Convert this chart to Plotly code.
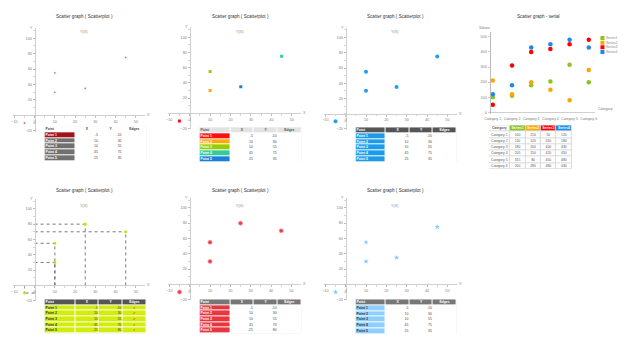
import plotly.graph_objects as go

W, H = 640, 358
FONT = "Liberation Sans, Arial, sans-serif"

# ---------------- data ----------------
point_names = ["Point 1", "Point 2", "Point 3", "Point 4", "Point 5"]
x_vals = [-5, 10, 10, 45, 25]
y_vals_a = [-10, 30, 55, 75, 35]
y_vals_b = [-10, 30, 55, 70, 80]
x_ticks = [-10, 0, 10, 20, 30, 40, 50]
y_ticks = [-20, 20, 40, 60, 80, 100]
point_header = ["Point", "X", "Y", "Edges"]
edges_empty = ["", "", "", "", ""]
edges_checked = ["✔", "✔", "✔", "✔", "✔"]

categories = ["Category 1", "Category 2", "Category 3", "Category 4", "Category 5", "Category 6"]
series_names = ["Series1", "Series2", "Series3", "Series4"]
series1 = [100, 110, 180, 205, 315, 200]
series2 = [210, 120, 200, 150, 80, 280]
series3 = [50, 310, 400, 420, 450, 480]
series4 = [120, 180, 430, 450, 480, 430]
series_colors = ["#8DC21F", "#FFA500", "#FF0000", "#1E88E5"]
value_ticks = [0, 100, 200, 300, 400, 500]
cat_header = ["Category", "Series1", "Series2", "Series3", "Series4"]

title_points = "Scatter graph ( Scatterplot )"
title_serial = "Scatter graph - serial"

# ---------------- helpers ----------------
fig = go.Figure()
layout = {}
annotations = []
shapes = []
counter = [0]


def new_axes():
    counter[0] += 1
    i = counter[0]
    s = "" if i == 1 else str(i)
    return "x" + s, "y" + s, "xaxis" + s, "yaxis" + s


def text_ann(x, y, text, size=4, color="#555", xanchor="center", yanchor="middle", xref="paper", yref="paper"):
    annotations.append(dict(x=x, y=y, xref=xref, yref=yref, text=text, showarrow=False,
                            xanchor=xanchor, yanchor=yanchor,
                            font=dict(size=size, color=color, family=FONT)))


axis_common = dict(showgrid=False, zeroline=False, showline=True, linecolor="#cfcfcf", linewidth=1,
                   ticks="outside", ticklen=2, tickwidth=0.6, tickcolor="#aaaaaa",
                   tickfont=dict(size=3.8, color="#808080", family=FONT), fixedrange=True)


def scatter_panel(x0, y0, sx, sy, xs, ys, marker, tx, ty, guides=False,
                  xr=(-10.5, 54.5), yr=(-21, 113)):
    xn, yn, xk, yk = new_axes()
    layout[xk] = {**axis_common,
                  "domain": [(x0 + xr[0] * sx) / W, (x0 + xr[1] * sx) / W],
                  "range": list(xr), "anchor": "free", "position": 1 - y0 / H,
                  "tickmode": "array", "tickvals": x_ticks,
                  "minor": dict(dtick=5, ticks="outside", ticklen=1.5, tickcolor="#bbbbbb", tickwidth=0.6)}
    layout[yk] = {**axis_common,
                  "domain": [1 - (y0 - yr[0] * sy) / H, 1 - (y0 - yr[1] * sy) / H],
                  "range": list(yr), "anchor": "free", "position": x0 / W,
                  "tickmode": "array", "tickvals": y_ticks,
                  "minor": dict(dtick=10, ticks="outside", ticklen=1.5, tickcolor="#bbbbbb", tickwidth=0.6)}
    if guides:
        gx, gy = [], []
        for a, b in zip(xs, ys):
            gx += [a, a, None, 0, a, None]
            gy += [0, b, None, b, b, None]
        fig.add_trace(go.Scatter(x=gx, y=gy, mode="lines", xaxis=xn, yaxis=yn, hoverinfo="skip",
                                 line=dict(color="#555555", width=0.8, dash="dot")))
    fig.add_trace(go.Scatter(x=xs, y=ys, mode="markers", marker=marker, xaxis=xn, yaxis=yn))
    text_ann(xr[1], 0, "X", size=3.8, color="#888", xanchor="left", xref=xn, yref=yn)
    text_ann(0, yr[1], "Y", size=3.8, color="#888", xanchor="right", xref=xn, yref=yn)
    text_ann(tx / W, 1 - ty / H, title_points, size=4.6, color="#333")
    text_ann(tx / W, 1 - (ty + 15) / H, "Y(X)", size=3.8, color="#888")


def table_panel(left, top, right, bottom, widths, columns, fills, tcolors, aligns, bold_cols=(), bg="#d9d9d9"):
    xn, yn, xk, yk = new_axes()
    edges = [0]
    for w in widths:
        edges.append(edges[-1] + w)
    nrows = len(columns[0])
    layout[xk] = dict(domain=[left / W, right / W], range=[0, edges[-1]], visible=False,
                      anchor=yn, fixedrange=True)
    layout[yk] = dict(domain=[1 - bottom / H, 1 - top / H], range=[nrows - 0.5, -0.5], visible=False,
                      anchor=xn, fixedrange=True)
    palette = []
    for col in fills:
        for c in col:
            if c not in palette:
                palette.append(c)
    n = len(palette)
    cs = []
    for k, c in enumerate(palette):
        cs.append([k / n, c])
        cs.append([(k + 1) / n, c])
    z = [[palette.index(fills[c][r]) for c in range(len(columns))] for r in range(nrows)]
    shapes.append(dict(type="rect", xref=xn + " domain", yref=yn + " domain", x0=0, x1=1, y0=0, y1=1,
                       fillcolor=bg, line=dict(width=0), layer="below"))
    fig.add_trace(go.Heatmap(x=edges, y=list(range(nrows)), z=z, colorscale=cs, zmin=-0.5, zmax=n - 0.5,
                             showscale=False, xgap=1, ygap=1, hoverinfo="skip", xaxis=xn, yaxis=yn))
    for c, col in enumerate(columns):
        groups = {}
        for r, t in enumerate(col):
            if t == "":
                continue
            al = aligns[c][0] if r == 0 else aligns[c][1]
            groups.setdefault(al, []).append(r)
        for al, rows in groups.items():
            if al == "left":
                xp, pos = edges[c] + 1.0, "middle right"
            elif al == "right":
                xp, pos = edges[c + 1] - 1.0, "middle left"
            else:
                xp, pos = (edges[c] + edges[c + 1]) / 2, "middle center"
            txt = []
            for r in rows:
                t = col[r]
                if (r == 0) or (c in bold_cols):
                    t = "<b>" + t + "</b>"
                txt.append(t)
            fig.add_trace(go.Scatter(x=[xp] * len(rows), y=rows, mode="text", text=txt, textposition=pos,
                                     textfont=dict(size=3.4, family=FONT, color=[tcolors[c][r] for r in rows]),
                                     hoverinfo="skip", xaxis=xn, yaxis=yn))


def point_table(left, top, right, bottom, ys, head_fill, head_text, first_fills, first_text,
                body_fill="#ffffff", body_text="#444444", edges_col=None, edges_color="#444444"):
    edges_col = edges_col if edges_col is not None else edges_empty
    cols = [[point_header[0]] + point_names,
            [point_header[1]] + [str(v) for v in x_vals],
            [point_header[2]] + [str(v) for v in ys],
            [point_header[3]] + edges_col]
    fills = [[head_fill] + first_fills] + [[head_fill] + [body_fill] * 5 for _ in range(3)]
    tcols = [[head_text] + [first_text] * 5,
             [head_text] + [body_text] * 5,
             [head_text] + [body_text] * 5,
             [head_text] + [edges_color] * 5]
    aligns = [("left", "left"), ("center", "right"), ("center", "right"), ("center", "center")]
    table_panel(left, top, right, bottom, [31, 24, 24, 24], cols, fills, tcols, aligns, bold_cols=(0,))


# ---------------- panel 1 ----------------
scatter_panel(30, 116, 2.05, 0.775, x_vals, y_vals_a,
              dict(symbol=["square", "star", "star", "star", "star"], size=[2.6, 3.6, 3.6, 3.6, 3.6],
                   color=["#B0101E", "#444444", "#444444", "#444444", "#444444"]), 80, 17)
point_table(40, 127, 143, 162, y_vals_a, "#ffffff", "#444444",
            ["#A0141E", "#707070", "#707070", "#707070", "#707070"], "#ffffff")

# ---------------- panel 2 ----------------
p2_colors = ["#FF1010", "#FFAA00", "#99CC00", "#33CC99", "#1E7FD8"]
scatter_panel(187, 114, 2.07, 0.765, x_vals, y_vals_a,
              dict(symbol="square", size=3, color=p2_colors), 238, 17)
point_table(197, 128, 300, 163, y_vals_a, "#e2e2e2", "#555555", p2_colors, "#ffffff")

# ---------------- panel 3 ----------------
scatter_panel(345, 114.3, 2.06, 0.765, x_vals, y_vals_a,
              dict(symbol="circle", size=4, color="#1EA0F0"), 395, 17)
point_table(355, 128, 457, 163, y_vals_a, "#555555", "#ffffff", ["#1E9BE8"] * 5, "#ffffff")

# ---------------- panel 5 ----------------
scatter_panel(30, 287, 2.05, 0.77, x_vals, y_vals_b,
              dict(symbol="square", size=2.6, color="#C8E000"), 80, 192, guides=True)
point_table(40, 301, 143, 335, y_vals_b, "#555555", "#ffffff", ["#D2EC0C"] * 5, "#333333",
            body_fill="#D2EC0C", body_text="#333333", edges_col=edges_checked, edges_color="#E8202A")

# ---------------- panel 6 ----------------
scatter_panel(187, 286, 2.06, 0.77, x_vals, y_vals_b,
              dict(symbol="circle", size=4, color="#F03C4A",
                   line=dict(color="rgba(255,140,150,0.6)", width=1)), 238, 192)
point_table(197, 301, 300, 335, y_vals_b, "#777777", "#ffffff", ["#E8363F"] * 5, "#ffffff")

# ---------------- panel 7 ----------------
scatter_panel(345, 286, 2.06, 0.77, x_vals, y_vals_a,
              dict(symbol="star", size=4, color="#80C8FF"), 395, 192)
point_table(355, 301, 457, 336, y_vals_a, "#777777", "#ffffff", ["#8ECFFF"] * 5, "#223344")

# ---------------- panel 4 (serial) ----------------
xn, yn, xk, yk = new_axes()
layout[xk] = {**axis_common, "domain": [490.7 / W, 597 / W], "type": "category",
              "categoryorder": "array", "categoryarray": categories,
              "range": [-0.17, 5.3], "anchor": "free", "position": 1 - 113 / H,
              "ticks": "", "ticklabelstandoff": 3, "tickfont": dict(size=3.4, color="#777", family=FONT)}
layout[yk] = {**axis_common, "domain": [1 - 114.5 / H, 1 - 31.7 / H], "range": [-10, 535],
              "anchor": "free", "position": 490.7 / W, "linecolor": "#bbbbbb", "linewidth": 1.6,
              "tickmode": "array", "tickvals": value_ticks}
for name, vals, col in zip(series_names, [series1, series2, series3, series4], series_colors):
    fig.add_trace(go.Scatter(x=categories, y=vals, mode="markers", name=name,
                             marker=dict(symbol="circle", size=4.5, color=col), xaxis=xn, yaxis=yn))
text_ann(540 / W, 1 - 17 / H, title_serial, size=4.6, color="#333")
text_ann(478 / W, 1 - 28 / H, "Values", size=3.6, color="#777", xanchor="left")
text_ann(598 / W, 1 - 110 / H, "Category", size=3.6, color="#777", xanchor="left")

# legend built on its own hidden axes
xn, yn, xk, yk = new_axes()
layout[xk] = dict(domain=[600 / W, 640 / W], range=[0, 40], visible=False, anchor=yn, fixedrange=True)
layout[yk] = dict(domain=[1 - 54.5 / H, 1 - 36 / H], range=[3.5, -0.5], visible=False, anchor=xn, fixedrange=True)
fig.add_trace(go.Scatter(x=[5] * 4, y=list(range(4)), mode="markers+text", text=series_names,
                         textposition="middle right",
                         textfont=dict(size=3.4, color="#888", family=FONT),
                         marker=dict(symbol="square", size=4, color=series_colors),
                         xaxis=xn, yaxis=yn, hoverinfo="skip"))

# serial table
cat_cols = [[cat_header[0]] + categories] + \
           [[h] + [str(v) for v in s] for h, s in zip(cat_header[1:], [series1, series2, series3, series4])]
cat_fills = [["#ffffff"] * 7] + [[c] + ["#ffffff"] * 6 for c in series_colors]
cat_tcols = [["#555555"] * 7] + [["#ffffff"] + ["#555555"] * 6 for _ in series_colors]
table_panel(490, 126, 574, 170, [21, 16, 15.5, 15.5, 16], cat_cols, cat_fills, cat_tcols,
            [("center", "center")] * 5)

fig.update_layout(**layout)
fig.update_layout(width=W, height=H, margin=dict(l=0, r=0, t=0, b=0), showlegend=False,
                  paper_bgcolor="#ffffff", plot_bgcolor="#ffffff",
                  annotations=annotations, shapes=shapes,
                  font=dict(family=FONT), hovermode=False)
fig.write_html("out.html", config={"displayModeBar": False, "staticPlot": True},
               post_script="document.body.style.margin='0';document.body.style.padding='0';")
